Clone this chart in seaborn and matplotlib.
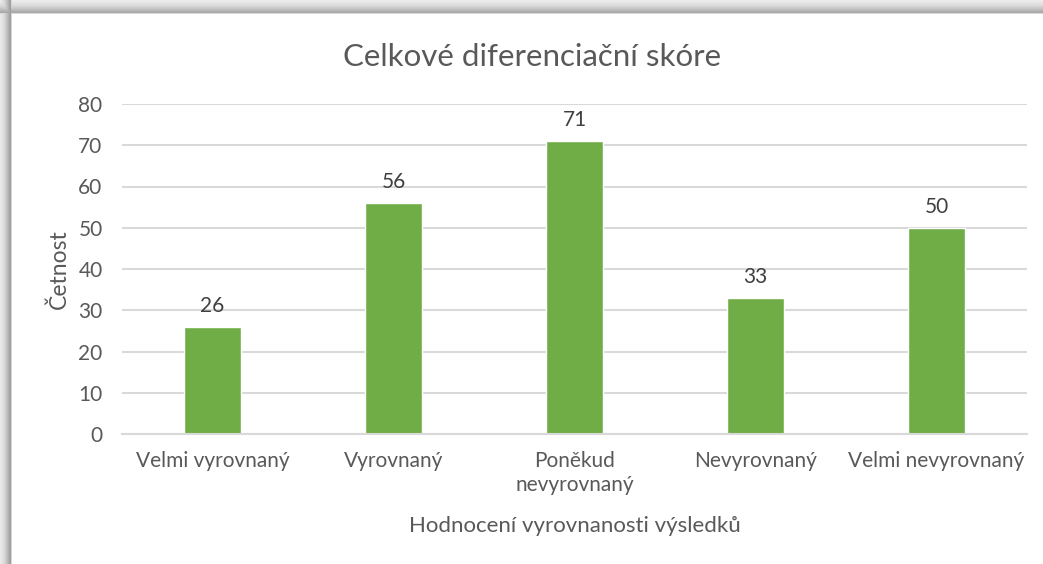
import matplotlib.pyplot as plt
import seaborn as sns
import numpy as np

categories = ['Velmi vyrovnaný', 'Vyrovnaný', 'Poněkud\nnevyrovnaný', 'Nevyrovnaný', 'Velmi nevyrovnaný']
counts = [26, 56, 71, 33, 50]

sns.set_theme(style='white')
plt.rcParams['font.family'] = ['Lato', 'DejaVu Sans']

W, H = 1043, 564
fig = plt.figure(figsize=(W / 100, H / 100), dpi=100)

# shadow frame along the top and left edges (Excel style)
bg = fig.add_axes([0, 0, 1, 1])
ramp_x = np.interp(np.arange(W), [0, 4, 10, 11, 12], [0.92, 0.85, 0.62, 0.85, 1.0])
ramp_y = np.interp(np.arange(H), [0, 5, 12, 13, 14], [0.93, 0.86, 0.66, 0.85, 1.0])
img = np.minimum(ramp_x[None, :], ramp_y[:, None])
bg.imshow(np.dstack([img] * 3), aspect='auto', extent=[0, 1, 0, 1], origin='upper',
          interpolation='nearest')
bg.axis('off')

ax = fig.add_axes([122 / W, 1 - 434 / H, (1027 - 122) / W, (434 - 104) / H])
ax.set_facecolor('none')
sns.barplot(x=categories, y=counts, color='#70ad47', width=0.315, saturation=1, ax=ax)

for c in ax.containers:
    ax.bar_label(c, labels=[str(v) for v in counts], padding=8, fontsize=15, color='#404040')

ax.set_ylim(0, 80)
ax.set_yticks(range(0, 81, 10))
ax.set_xlim(-0.5, len(categories) - 0.5)
ax.yaxis.grid(True, color='#d9d9d9', linewidth=1.5)
ax.set_axisbelow(True)
for s in ['top', 'right', 'left']:
    ax.spines[s].set_visible(False)
ax.spines['bottom'].set_color('#d9d9d9')
ax.spines['bottom'].set_linewidth(1.5)
ax.tick_params(axis='both', length=0, labelsize=15, labelcolor='#595959')
ax.tick_params(axis='x', pad=12)
ax.tick_params(axis='y', pad=14)
for t in ax.get_xticklabels():
    t.set_linespacing(1.25)

# title is centred over the whole chart area, not the plot area
fig.text(532 / W, 1 - 57 / H, 'Celkové diferenciační skóre', fontsize=22.5,
         color='#595959', ha='center', va='center')
ax.set_xlabel('Hodnocení vyrovnanosti výsledků', fontsize=16, color='#595959', labelpad=15)
ax.set_ylabel('Četnost', fontsize=16.5, color='#595959', labelpad=6)

fig.savefig('out.png', dpi=100)
